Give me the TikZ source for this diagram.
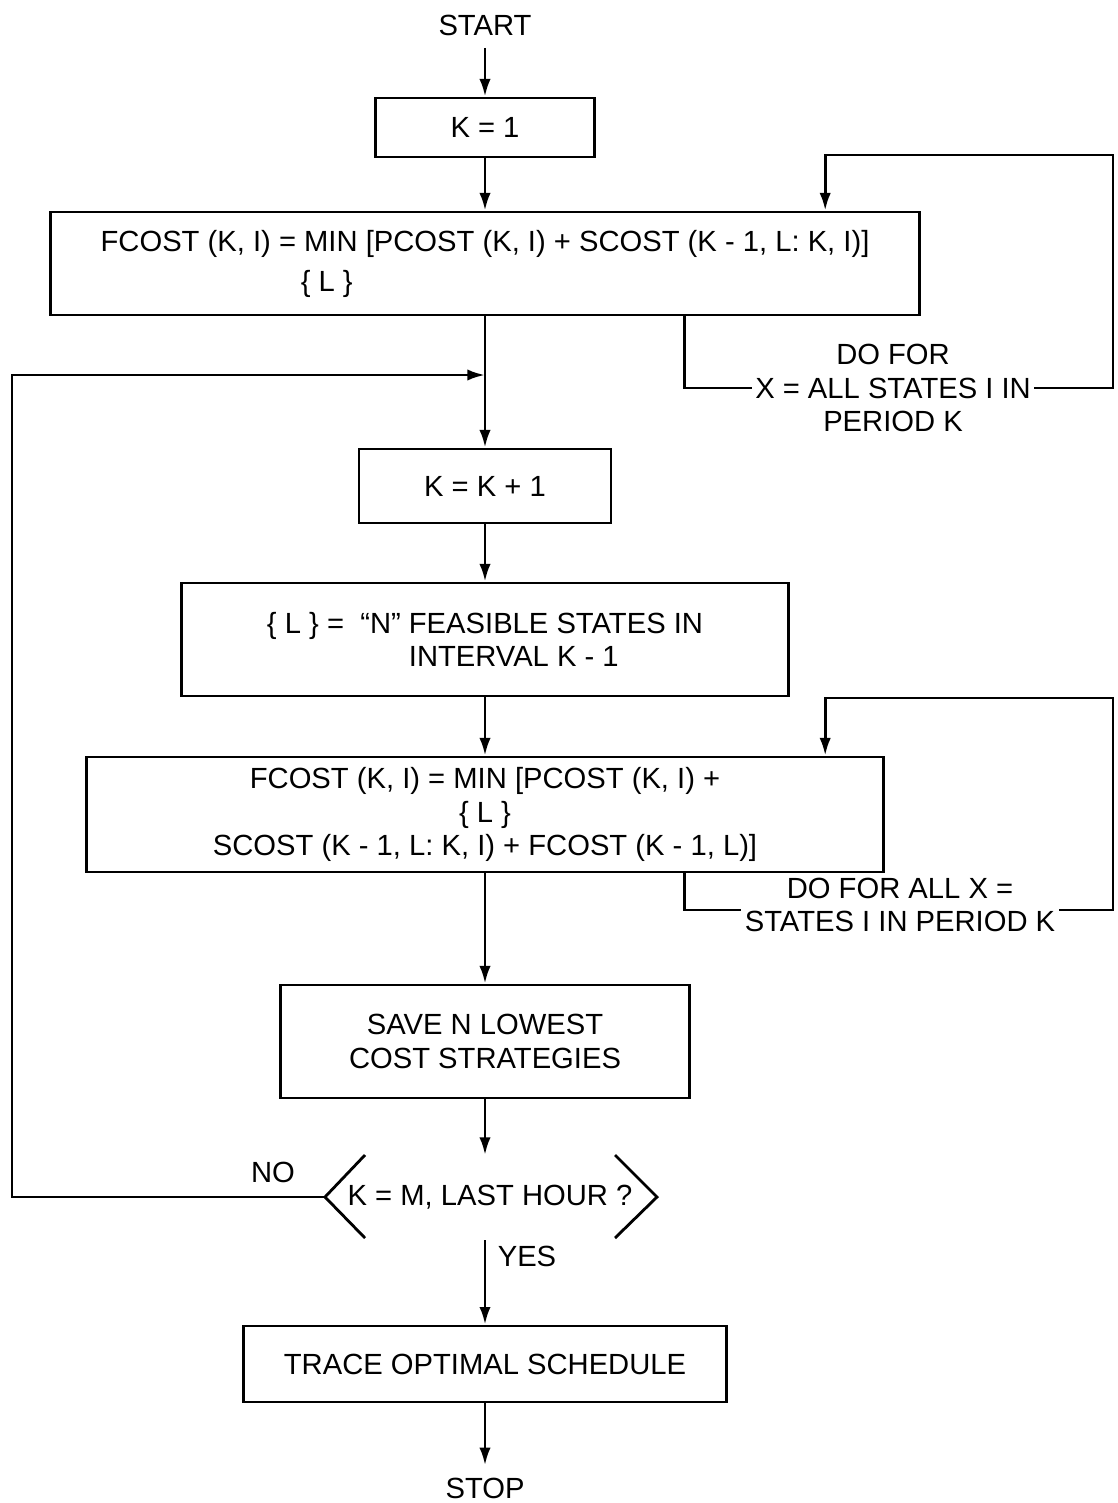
\documentclass[tikz,border=0pt]{standalone}
\usepackage{fontspec}
\setmainfont{Liberation Sans}
\usetikzlibrary{arrows.meta}

\begin{document}
\begin{tikzpicture}[x=0.01cm, y=-0.01cm,
  every node/.style={font=\fontsize{8.3}{9.6}\selectfont},
  box/.style={draw, line width=0.8pt, inner sep=0pt, align=center},
  line/.style={line width=0.8pt},
  arr/.style={line width=0.8pt, -{Latex[length=5pt,width=3.2pt]}},
  note/.style={fill=white, inner sep=1pt, align=center}]
\useasboundingbox (0,0) rectangle (1117,1503);

\node (start) at (485,25) {START};
\node[box, minimum width=2.19cm, minimum height=0.59cm] (k1) at (485,127.5) {K = 1};
\node[box, minimum width=8.69cm, minimum height=1.03cm, align=left] (fc1) at (485,263.5)
  {FCOST (K, I) = MIN [PCOST (K, I) + SCOST (K - 1, L: K, I)]\\[1.8pt]\hspace{2cm}\{ L \}};
\node[box, minimum width=2.52cm, minimum height=0.74cm] (k2) at (485,486) {K = K + 1};
\node[box, minimum width=6.07cm, minimum height=1.13cm, align=left] (fl) at (485,639.5)
  {\{ L \} =~ “N” FEASIBLE STATES IN\\\hphantom{\{ L \} =~ “N” }INTERVAL K - 1};
\node[box, minimum width=7.96cm, minimum height=1.15cm] (fc2) at (485,814.5)
  {FCOST (K, I) = MIN [PCOST (K, I) +\\\{ L \}\\SCOST (K - 1, L: K, I) + FCOST (K - 1, L)]};
\node[box, minimum width=4.08cm, minimum height=1.13cm] (sv) at (485,1041.5)
  {SAVE N LOWEST\\COST STRATEGIES};
\node (dec) at (490,1197) {K = M, LAST HOUR ?};
\node[box, minimum width=4.82cm, minimum height=0.76cm] (tr) at (485,1364) {TRACE OPTIMAL SCHEDULE};
\node (stop) at (485,1488) {STOP};

% decision chevrons
\coordinate (dtop) at (485,1155);
\coordinate (dbot) at (485,1240);
\coordinate (dleft) at (325,1197);
\draw[line] (365,1155) -- (dleft) -- (365,1238);
\draw[line] (615,1155) -- (657,1197) -- (615,1238);
\node at (273,1172) {NO};
\node at (527,1256) {YES};

% main flow
\coordinate (join) at (485,375);
\draw[arr] (start) -- (k1);
\draw[arr] (k1) -- (fc1);
\draw[arr] (fc1) -- (k2);
\draw[arr] (k2) -- (fl);
\draw[arr] (fl) -- (fc2);
\draw[arr] (fc2) -- (sv);
\draw[arr] (sv) -- (dtop);
\draw[arr] (dbot) -- (tr);
\draw[arr] (tr) -- (stop);

% back to K = K + 1
\coordinate (back) at (12,375);
\draw[arr] (dleft) -| (back) -- (join);

% do loops
\coordinate (r1b) at (1113,388);
\coordinate (r1t) at (1113,155);
\draw[arr] ([xshift=1.99cm]fc1.south) |- (r1b) -- (r1t) -| ([xshift=3.4cm]fc1.north);
\node[note] (do1) at (893,388) {DO FOR\\X = ALL STATES I IN\\PERIOD K};

\coordinate (r2b) at (1113,910);
\coordinate (r2t) at (1113,698);
\draw[arr] ([xshift=1.99cm]fc2.south) |- (r2b) -- (r2t) -| ([xshift=3.4cm]fc2.north);
\node[note] (do2) at (900,905) {DO FOR ALL X =\\STATES I IN PERIOD K};
\end{tikzpicture}
\end{document}
